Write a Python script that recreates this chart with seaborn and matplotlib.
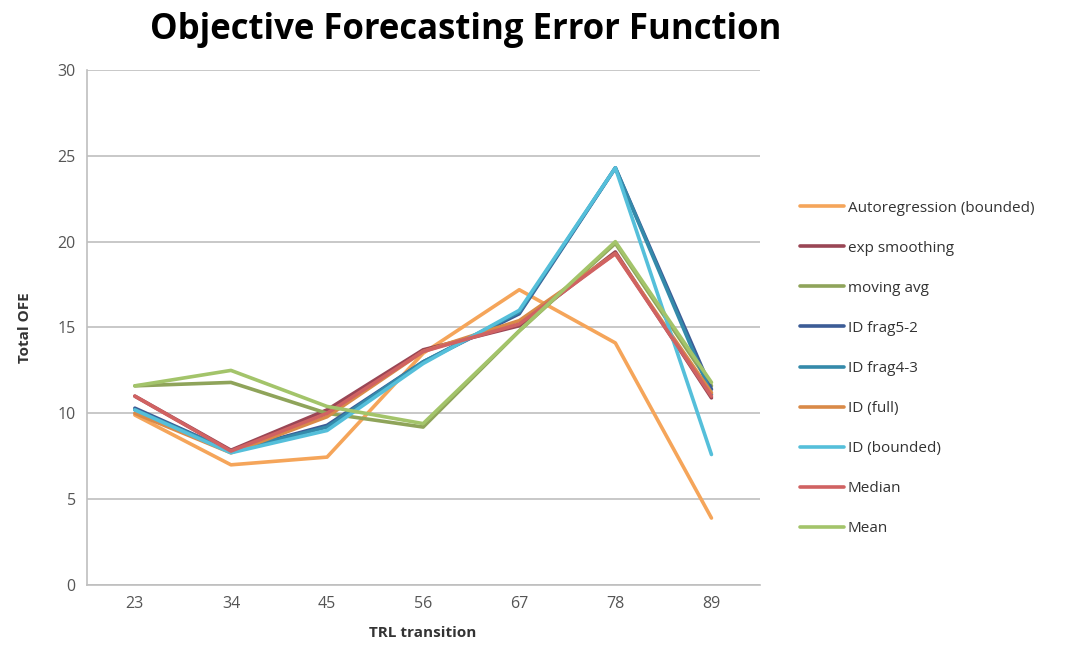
import matplotlib
matplotlib.use("Agg")
import matplotlib.pyplot as plt
import seaborn as sns
import pandas as pd

transitions = ["23", "34", "45", "56", "67", "78", "89"]
autoregression_bounded = [9.9, 7.0, 7.45, 13.5, 17.2, 14.1, 3.9]
exp_smoothing = [11.0, 7.85, 10.2, 13.7, 15.1, 19.4, 10.9]
moving_avg = [11.6, 11.8, 10.0, 9.2, 14.8, 19.9, 11.6]
id_frag5_2 = [10.3, 7.8, 9.3, 13.0, 15.8, 24.3, 11.4]
id_frag4_3 = [10.2, 7.8, 9.2, 13.0, 15.9, 24.3, 11.1]
id_full = [10.0, 7.7, 9.8, 13.6, 15.4, 19.3, 11.2]
id_bounded = [10.2, 7.7, 9.0, 12.9, 16.0, 24.3, 7.6]
median = [11.0, 7.8, 10.0, 13.6, 15.2, 19.3, 11.0]
mean = [11.6, 12.5, 10.4, 9.4, 14.8, 20.0, 11.8]

series = {
    "Autoregression (bounded)": autoregression_bounded,
    "exp smoothing": exp_smoothing,
    "moving avg": moving_avg,
    "ID frag5-2": id_frag5_2,
    "ID frag4-3": id_frag4_3,
    "ID (full)": id_full,
    "ID (bounded)": id_bounded,
    "Median": median,
    "Mean": mean,
}
colors = ["#F5A55A", "#9A4655", "#8FA45A", "#3C5C96", "#348AAA",
          "#D98A48", "#55BFDA", "#D06262", "#A3C46A"]

rows = []
for name, vals in series.items():
    for i, v in enumerate(vals):
        rows.append({"pos": i, "TRL transition": transitions[i], "OFE": v, "series": name})
df = pd.DataFrame(rows)

sns.set_theme(style="white")
plt.rcParams["font.family"] = ["Open Sans", "DejaVu Sans"]

fig = plt.figure(figsize=(10.85, 6.57), dpi=100)
ax = fig.add_axes([0.080, 0.1096, 0.620, 0.7839])

sns.lineplot(data=df, x="pos", y="OFE", hue="series", hue_order=list(series.keys()),
             palette=colors, linewidth=2.6, ax=ax, sort=False, estimator=None)

ax.set_xlim(-0.5, 6.5)
ax.set_ylim(0, 30)
ax.set_xticks(range(len(transitions)))
ax.set_xticklabels(transitions)
ax.set_yticks(range(0, 31, 5))
ax.tick_params(axis="both", labelsize=11.5, colors="#555555", length=0, pad=8)
ax.yaxis.grid(True, color="#BFBFBF", linewidth=1.2)
for s in ["top", "right"]:
    ax.spines[s].set_visible(False)
for s in ["left", "bottom"]:
    ax.spines[s].set_color("#BFBFBF")
    ax.spines[s].set_linewidth(1.2)

ax.set_xlabel("TRL transition", fontsize=11, fontweight="bold", color="#333333", labelpad=10)
ax.set_ylabel("Total OFE", fontsize=11, fontweight="bold", color="#333333", labelpad=18)

fig.suptitle("Objective Forecasting Error Function", x=0.429, y=0.982,
             fontsize=25, fontweight="bold", color="black")

leg = ax.legend(loc="upper left", bbox_to_anchor=(1.04, 0.773), frameon=False,
                fontsize=11, labelspacing=1.64, handlelength=2.9, handletextpad=0.2)
for t in leg.get_texts():
    t.set_color("#333333")

fig.savefig("out.png", dpi=100)
